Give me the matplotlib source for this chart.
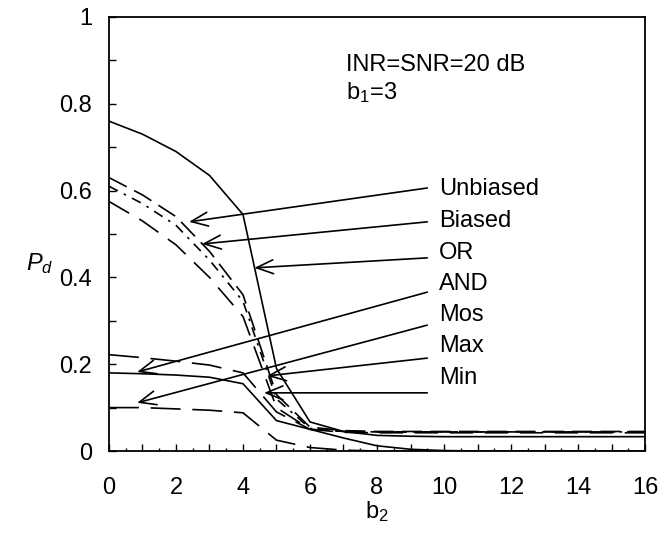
import matplotlib
matplotlib.use("Agg")
import matplotlib.pyplot as plt
from matplotlib.ticker import MultipleLocator, FuncFormatter

plt.rcParams['font.family'] = ['Liberation Sans', 'DejaVu Sans']
plt.rcParams['mathtext.fontset'] = 'custom'
plt.rcParams['mathtext.rm'] = 'Liberation Sans'
plt.rcParams['mathtext.it'] = 'Liberation Sans:italic'

# ---- data ----
b2 = list(range(17))
pd_or = [0.76, 0.73, 0.69, 0.635, 0.545, 0.19, 0.067, 0.045, 0.036, 0.034,
         0.033, 0.033, 0.033, 0.033, 0.033, 0.033, 0.033]
pd_unbiased = [0.63, 0.59, 0.54, 0.46, 0.36, 0.13, 0.055, 0.047, 0.045, 0.045,
               0.045, 0.045, 0.045, 0.045, 0.045, 0.045, 0.045]
pd_biased = [0.61, 0.57, 0.52, 0.44, 0.345, 0.12, 0.052, 0.045, 0.044, 0.044,
             0.044, 0.044, 0.044, 0.044, 0.044, 0.044, 0.044]
pd_max = [0.575, 0.53, 0.475, 0.40, 0.31, 0.10, 0.05, 0.043, 0.042, 0.042,
          0.042, 0.042, 0.042, 0.042, 0.042, 0.042, 0.042]
pd_min = [0.222, 0.215, 0.207, 0.198, 0.18, 0.09, 0.05, 0.045, 0.044, 0.044,
          0.044, 0.044, 0.044, 0.044, 0.044, 0.044, 0.044]
pd_and = [0.18, 0.178, 0.175, 0.17, 0.155, 0.07, 0.05, 0.03, 0.012, 0.004,
          0.001, 0.0, 0.0, 0.0, 0.0, 0.0, 0.0]
pd_mos = [0.10, 0.10, 0.097, 0.094, 0.088, 0.025, 0.008, 0.002, 0.0, 0.0,
          0.0, 0.0, 0.0, 0.0, 0.0, 0.0, 0.0]

labels = ["Unbiased", "Biased", "OR", "AND", "Mos", "Max", "Min"]
label_y = [0.604, 0.530, 0.456, 0.385, 0.313, 0.242, 0.168]
arrow_start_y = [0.606, 0.528, 0.445, 0.366, 0.290, 0.214, 0.134]
arrow_tip = [(2.39, 0.528), (2.78, 0.477), (4.34, 0.422), (0.84, 0.182),
             (0.84, 0.111), (4.72, 0.173), (4.63, 0.134)]

fig = plt.figure(figsize=(6.71, 5.48), dpi=100)
ax = fig.add_axes([0.1624, 0.177, 0.7989, 0.792])

lw = 1.2
ax.plot(b2, pd_or, color='black', lw=lw, linestyle='-')
ax.plot(b2, pd_unbiased, color='black', lw=lw, linestyle=(0, (12, 5)))
ax.plot(b2, pd_biased, color='black', lw=lw, linestyle=(0, (6, 4, 1.5, 4)))
ax.plot(b2, pd_max, color='black', lw=lw, linestyle=(0, (14, 7)))
ax.plot(b2, pd_min, color='black', lw=lw, linestyle=(0, (18, 7)))
ax.plot(b2, pd_and, color='black', lw=lw, linestyle='-')
ax.plot(b2, pd_mos, color='black', lw=lw, linestyle=(0, (18, 7)))

for lab, ly, sy, tip in zip(labels, label_y, arrow_start_y, arrow_tip):
    ax.annotate('', xy=tip, xytext=(9.5, sy),
                arrowprops=dict(arrowstyle='->,head_length=0.6,head_width=0.25',
                                lw=1.2, color='black', shrinkA=0, shrinkB=0,
                                mutation_scale=20))
    ax.text(9.85, ly, lab, fontsize=17, ha='left', va='center')

ax.text(7.07, 0.889, "INR=SNR=20 dB", fontsize=17, ha='left', va='center')
ax.text(7.07, 0.825, r"b$_1$=3", fontsize=17, ha='left', va='center')

ax.set_xlim(0, 16)
ax.set_ylim(0, 1)
ax.xaxis.set_major_locator(MultipleLocator(1))
ax.xaxis.set_minor_locator(MultipleLocator(0.5))
ax.xaxis.set_major_formatter(FuncFormatter(lambda v, p: "%d" % v if int(round(v)) % 2 == 0 else ""))
ax.yaxis.set_major_locator(MultipleLocator(0.1))


def yfmt(v, p):
    r = round(v * 10)
    if r % 2 != 0:
        return ""
    if r == 0:
        return "0"
    if r == 10:
        return "1"
    return "%.1f" % v


ax.yaxis.set_major_formatter(FuncFormatter(yfmt))
ax.tick_params(axis='both', which='major', direction='in', length=5, width=1.0,
               labelsize=17, top=False, right=False)
ax.tick_params(axis='x', which='major', pad=19)
ax.tick_params(axis='y', which='major', pad=12)
ax.tick_params(axis='x', which='minor', direction='in', length=2.5, width=1.0)
for s in ax.spines.values():
    s.set_linewidth(1.3)

ax.set_xlabel(r"b$_2$", fontsize=17, labelpad=0)
ax.set_ylabel(r"$P_d$", fontsize=17, rotation=0, ha='center', va='center')
ax.yaxis.set_label_coords(-0.129, 0.433)

fig.savefig("out.png", dpi=100)
